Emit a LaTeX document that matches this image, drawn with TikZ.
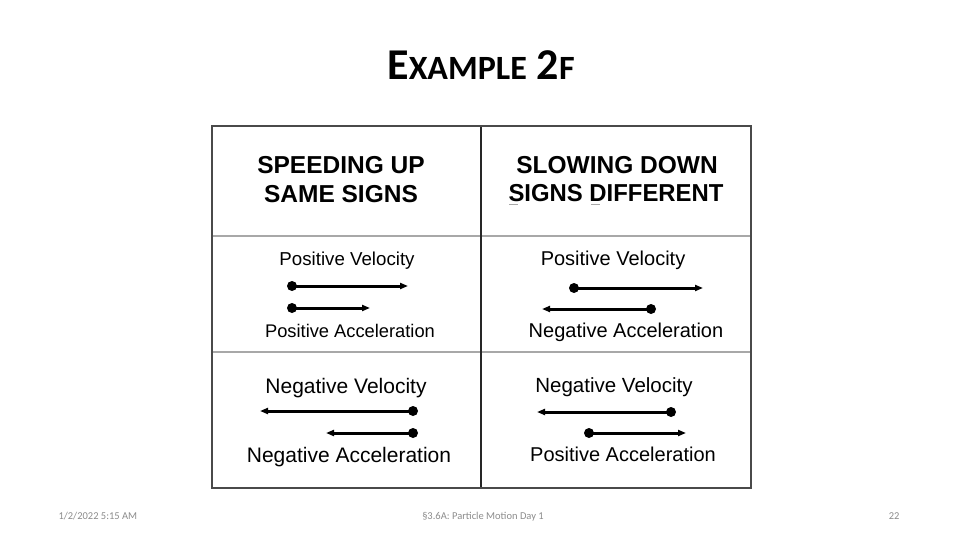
\documentclass[tikz,border=0pt]{standalone}
\usepackage{fontspec}
\setmainfont{Liberation Sans}
\newfontfamily\slidefont{Carlito}
\usetikzlibrary{arrows.meta}

\definecolor{rulegray}{HTML}{4A4A4A}
\definecolor{softgray}{HTML}{A8A8A8}
\definecolor{footgray}{HTML}{8C8C8C}

\tikzset{
  head/.style={anchor=base, font=\bfseries\fontsize{24.5}{26}\selectfont},
  vec/.style={line width=3pt, -{Triangle[length=8pt,width=6pt]}},
  foot/.style={anchor=base, text=footgray, font=\slidefont\fontsize{10.5}{12}\selectfont}
}

\begin{document}
\begin{tikzpicture}[x=1pt,y=-1pt]
        \useasboundingbox (0,0) rectangle (960,540);
        \fill[white] (0,0) rectangle (960,540);

        % title
        \node[anchor=base] (title) at (481,80)
            {\slidefont\bfseries\fontsize{44}{44}\selectfont E{\fontsize{34}{34}\selectfont XAMPLE} 2{\fontsize{34}{34}\selectfont F}};

        % table rules
        \draw[softgray,line width=1.8pt] (212,236) -- (751,236);
        \draw[softgray,line width=1.8pt] (212,352) -- (751,352);
        \draw[black!85,line width=1.8pt] (481,126) -- (481,488);
        \draw[rulegray,line width=2pt] (212,126) rectangle (751,488);

        % headers
        \node[head] (speedA) at (341,174) {SPEEDING UP};
        \node[head] (speedB) at (341,202) {SAME SIGNS};
        \node[head] (slowA) at (617,174) {SLOWING DOWN};
        \node[head,xscale=0.975] (slowB) at (616,201) {SIGNS DIFFERENT};
        \draw[softgray,line width=1pt] (509,204) -- (518,204);
        \draw[softgray,line width=1pt] (591,204) -- (600,204);

        % row of positive velocity
        \node[anchor=base,font=\fontsize{18.7}{20}\selectfont] (posvelL) at (347,265) {Positive Velocity};
        \node[anchor=base,font=\fontsize{18.3}{20}\selectfont] (posaccL) at (350,337) {Positive Acceleration};
        \node[anchor=base,font=\fontsize{20}{22}\selectfont] (posvelR) at (613,265) {Positive Velocity};
        \node[anchor=base,font=\fontsize{20}{22}\selectfont] (negaccR) at (626,337) {Negative Acceleration};

        % row of negative velocity
        \node[anchor=base,font=\fontsize{21}{23}\selectfont] (negvelL) at (346,393) {Negative Velocity};
        \node[anchor=base,font=\fontsize{21}{23}\selectfont] (negaccL) at (349,462) {Negative Acceleration};
        \node[anchor=base,font=\fontsize{20.5}{22}\selectfont] (negvelR) at (614,392) {Negative Velocity};
        \node[anchor=base,font=\fontsize{20}{22}\selectfont] (posaccR) at (623,461) {Positive Acceleration};

        % arrows: dot end / tip end / height
        \foreach \xa/\xb/\yy in {292/408/286, 292/370/308, 574/703/288, 651/542/309,
                                 413/260/411, 413/326/433, 671/537/412, 589/686/433}
        {
            \draw[vec] (\xa,\yy) -- (\xb,\yy);
            \fill (\xa,\yy) circle (5pt);
        }

        % footer
        \node[foot,anchor=base west] (date) at (55,519) {1/2/2022 5:15 AM};
        \node[foot] (topic) at (483,519) {§3.6A: Particle Motion Day 1};
        \node[foot,anchor=base east] (page) at (903,519) {22};
    \end{tikzpicture}
\end{document}
